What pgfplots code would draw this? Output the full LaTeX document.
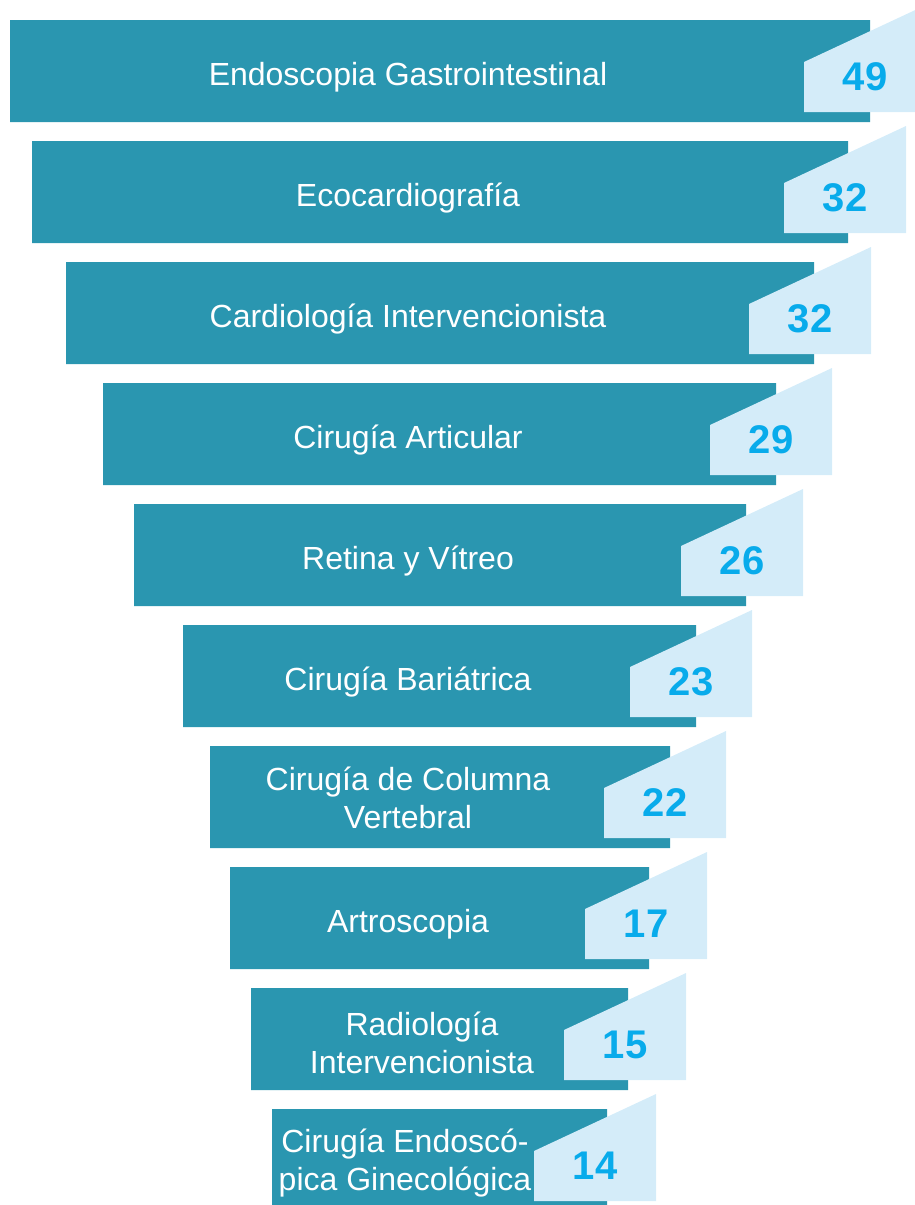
\documentclass[border=0pt]{standalone}
\usepackage{pgfplots}
\pgfplotsset{compat=1.18}
\usepackage{pgfplotstable}
\usepackage{fontspec}
\setmainfont{Liberation Sans}
\definecolor{barteal}{HTML}{2A96B0}
\definecolor{tagblue}{HTML}{D4ECF9}
\definecolor{valblue}{HTML}{08ABEB}

% bar centre (px), bar left/right, tag left, value
\pgfplotstableread{
yc left right tagl val
71 10 870 804 49
192 32 848 784 32
313 66 814 749 32
434 103 776 710 29
555 134 746 681 26
676 183 696 630 23
797 210 670 604 22
918 230 649 585 17
1039 251 628 564 15
1160 272 607 534 14
}\data

\pgfplotsset{common/.style={
  width=915pt, height=1205pt, scale only axis,
  xmin=0, xmax=915, ymin=0, ymax=1205, y dir=reverse,
  hide axis, at={(0pt,1205pt)}, anchor=origin,
  /pgf/number format/assume math mode=true},
  tag/.style={draw=none, fill=tagblue}}

\begin{document}
\begin{tikzpicture}
\useasboundingbox (0,0) rectangle (915pt,1205pt);
% bars
\begin{axis}[common, xbar stacked, bar width=102]
\addplot[draw=none, fill=none] table[x=left, y=yc] {\data};
\addplot[draw=none, fill=barteal] table[x expr=\thisrow{right}-\thisrow{left}, y=yc] {\data};
\end{axis}
% tags, values and names
\begin{axis}[common]
\addplot[tag] coordinates {(804,112) (804,62) (926,5) (926,112)} --cycle;
\addplot[tag] coordinates {(784,233) (784,183) (906,126) (906,233)} --cycle;
\addplot[tag] coordinates {(749,354) (749,304) (871,247) (871,354)} --cycle;
\addplot[tag] coordinates {(710,475) (710,425) (832,368) (832,475)} --cycle;
\addplot[tag] coordinates {(681,596) (681,546) (803,489) (803,596)} --cycle;
\addplot[tag] coordinates {(630,717) (630,667) (752,610) (752,717)} --cycle;
\addplot[tag] coordinates {(604,838) (604,788) (726,731) (726,838)} --cycle;
\addplot[tag] coordinates {(585,959) (585,909) (707,852) (707,959)} --cycle;
\addplot[tag] coordinates {(564,1080) (564,1030) (686,973) (686,1080)} --cycle;
\addplot[tag] coordinates {(534,1201) (534,1151) (656,1094) (656,1201)} --cycle;

\addplot[draw=none, mark=none, nodes near coords, point meta=explicit,
  nodes near coords style={anchor=center, text=valblue, font=\bfseries\fontsize{40}{44}\selectfont}]
  table[x expr=\thisrow{tagl}+61, y expr=\thisrow{yc}+6, meta=val] {\data};

\addplot[draw=none, mark=none, nodes near coords, point meta=explicit symbolic,
  nodes near coords style={anchor=center, align=center, text=white, font=\fontsize{32}{38}\selectfont}]
  coordinates {
  (408,77) [Endoscopia Gastrointestinal]
  (408,198) [Ecocardiografía]
  (408,319) [Cardiología Intervencionista]
  (408,440) [Cirugía Articular]
  (408,561) [Retina y Vítreo]
  (408,682) [Cirugía Bariátrica]
  (408,798) [{Cirugía de Columna\\Vertebral}]
  (408,924) [Artroscopia]
  (422,1043) [{Radiología\\Intervencionista}]
  (405,1163) [{Cirugía Endoscó-\\pica Ginecológica}]
  };
\end{axis}
\end{tikzpicture}
\end{document}
